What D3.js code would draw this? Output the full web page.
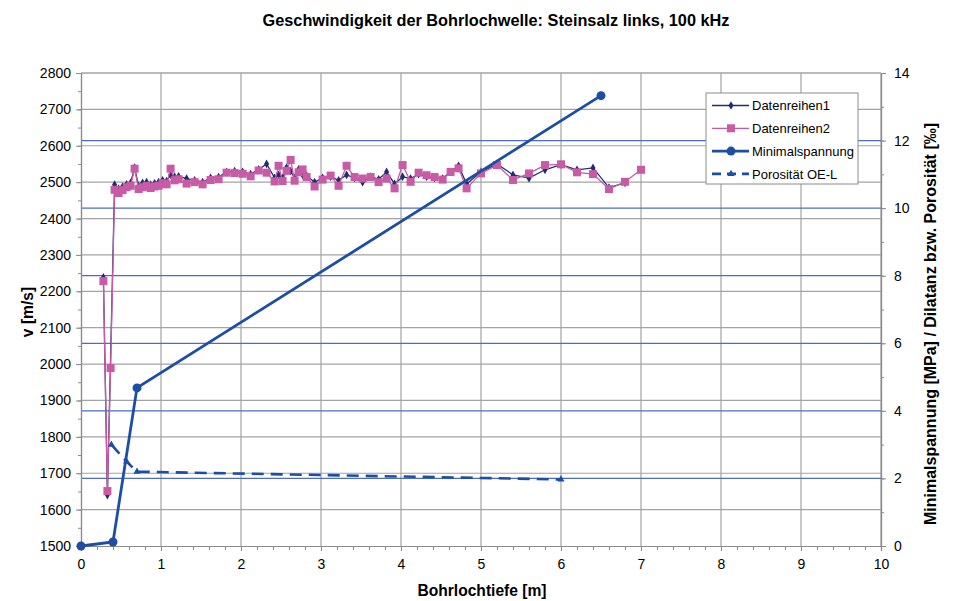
<!DOCTYPE html>
<html>
<head>
<meta charset="utf-8">
<script src="https://cdn.jsdelivr.net/npm/d3@7"></script>
<style>
  body { margin: 0; background: #fff; }
  svg { display: block; font-family: "Liberation Sans", Arial, sans-serif; }
</style>
</head>
<body>
<svg id="chart" width="954" height="601"></svg>
<script>
// Bohrlochtiefe [m] of the velocity readings
const depths = [0.28, 0.33, 0.37, 0.42, 0.47, 0.52, 0.57, 0.62, 0.67, 0.72, 0.77, 0.82, 0.87, 0.92, 0.97,
  1.02, 1.07, 1.12, 1.17, 1.22, 1.32, 1.42, 1.52, 1.62, 1.72, 1.82, 1.92, 2.02, 2.12, 2.22, 2.32, 2.42,
  2.47, 2.52, 2.57, 2.62, 2.67, 2.72, 2.77, 2.82, 2.92, 3.02, 3.12, 3.22, 3.32, 3.42, 3.52, 3.62, 3.72,
  3.82, 3.92, 4.02, 4.12, 4.22, 4.32, 4.42, 4.52, 4.62, 4.72, 4.82, 5.0, 5.2, 5.4, 5.6, 5.8, 6.0, 6.2,
  6.4, 6.6, 6.8, 7.0];

// Datenreihen1: v [m/s] (null = no reading)
const reihe1 = [2238, 1640, null, 2493, 2482, 2488, 2494, 2498, 2540, 2490, 2498, 2500, 2493, 2497, 2500,
  2505, 2503, 2520, 2515, 2516, 2510, 2505, 2500, 2512, 2514, 2528, 2530, 2528, 2522, 2535, 2550, 2512,
  2520, 2512, 2540, 2530, 2512, 2535, 2520, 2518, 2500, 2512, 2515, 2505, 2520, 2512, 2500, 2515, 2508,
  2528, 2495, 2515, 2510, 2522, 2515, 2512, 2510, 2528, 2545, 2495, 2528, 2550, 2520, 2511, 2534, 2548,
  2534, 2539, 2485, 2498, null];

// Datenreihen2: v [m/s]
const reihe2 = [2228, 1651, 1989, 2479, 2470, 2478, 2486, 2490, 2537, 2481, 2486, 2490, 2484, 2488, 2490,
  2497, 2494, 2537, 2505, 2508, 2496, 2500, 2494, 2506, 2508, 2526, 2525, 2523, 2516, 2532, 2526, 2502,
  2545, 2503, 2531, 2561, 2504, 2527, 2535, 2514, 2488, 2507, 2518, 2490, 2545, 2514, 2510, 2514, 2500,
  2510, 2483, 2547, 2501, 2526, 2519, 2514, 2507, 2528, 2538, 2483, 2524, 2547, 2506, 2524, 2547, 2549,
  2527, 2522, 2481, 2501, 2534];

// Minimalspannung [MPa]
const spannungTiefe = [0, 0.4, 0.7, 6.5];
const spannungWert = [0, 0.12, 4.68, 13.33];

// Porosität OE-L [‰]
const porTiefe = [0.38, 0.57, 0.7, 6.0];
const porWert = [3.0, 2.5, 2.2, 1.97];

// Axis ticks
const xTicks = d3.range(0, 11, 1);
const vTicks = d3.range(1500, 2801, 100);
const rTicks = d3.range(0, 15, 2);

const colNavy = "#1f2f6e";
const colPink = "#c95aa6";
const colBlue = "#1c4fa3";

const plotL = 81, plotR = 881, plotT = 73, plotB = 546;
const svg = d3.select("#chart");

const x = d3.scaleLinear().domain([0, 10]).range([plotL, plotR]);
const yV = d3.scaleLinear().domain([1500, 2800]).range([plotB, plotT]);
const yR = d3.scaleLinear().domain([0, 14]).range([plotB, plotT]);

// Gray grid (primary axis)
const grid = svg.append("g");
grid.selectAll("line.h").data(vTicks.slice(1)).join("line")
  .attr("x1", plotL).attr("x2", plotR)
  .attr("y1", d => yV(d)).attr("y2", d => yV(d))
  .attr("stroke", "#a3a3a3").attr("stroke-width", 1.2);
grid.selectAll("line.v").data(xTicks.slice(1)).join("line")
  .attr("x1", d => x(d)).attr("x2", d => x(d))
  .attr("y1", plotT).attr("y2", plotB)
  .attr("stroke", "#a3a3a3").attr("stroke-width", 1.2);

// Blue grid (secondary axis)
svg.append("g").selectAll("line").data(rTicks.slice(1, -1)).join("line")
  .attr("x1", plotL).attr("x2", plotR)
  .attr("y1", d => yR(d)).attr("y2", d => yR(d))
  .attr("stroke", "#4d6cc6").attr("stroke-width", 1.2);

// Axes
const tickFont = "14px";
const axB = svg.append("g").attr("transform", `translate(0,${plotB})`)
  .call(d3.axisBottom(x).tickValues(xTicks).tickSize(5).tickFormat(d3.format("d")));
svg.append("g").attr("transform", `translate(0,${plotB})`)
  .call(d3.axisBottom(x).tickValues(d3.range(0, 10.01, 0.2)).tickSize(4).tickFormat(""));
const axL = svg.append("g").attr("transform", `translate(${plotL},0)`)
  .call(d3.axisLeft(yV).tickValues(vTicks).tickSize(5).tickFormat(d3.format("d")));
svg.append("g").attr("transform", `translate(${plotL},0)`)
  .call(d3.axisLeft(yV).tickValues(d3.range(1500, 2801, 50)).tickSize(3).tickFormat(""));
const axR = svg.append("g").attr("transform", `translate(${plotR},0)`)
  .call(d3.axisRight(yR).tickValues(rTicks).tickSize(5).tickFormat(d3.format("d")));
svg.append("g").attr("transform", `translate(${plotR},0)`)
  .call(d3.axisRight(yR).tickValues(d3.range(0, 14.01, 1)).tickSize(3).tickFormat(""));

svg.selectAll(".domain").attr("stroke", "#8c8c8c").attr("stroke-width", 1.2);
svg.selectAll(".tick line").attr("stroke", "#8c8c8c");
svg.selectAll(".tick text").attr("font-size", tickFont).attr("fill", "#000")
  .attr("font-family", "Liberation Sans, Arial, sans-serif");
axB.selectAll(".tick text").attr("dy", "1.05em");
axL.selectAll(".tick text").attr("x", -10);
axR.selectAll(".tick text").attr("x", 13);

// Top border line
svg.append("line").attr("x1", plotL).attr("x2", plotR).attr("y1", plotT).attr("y2", plotT)
  .attr("stroke", "#a3a3a3").attr("stroke-width", 1.2);

// Series helpers
function points(xs, ys) {
  return xs.map((d, i) => ({ x: d, y: ys[i] })).filter(p => p.y !== null);
}
const p1 = points(depths, reihe1);
const p2 = points(depths, reihe2);
const pS = points(spannungTiefe, spannungWert);
const pP = points(porTiefe, porWert);

const lineV = d3.line().x(d => x(d.x)).y(d => yV(d.y));
const lineR = d3.line().x(d => x(d.x)).y(d => yR(d.y));

// Datenreihen1
svg.append("path").datum(p1).attr("d", lineV).attr("fill", "none")
  .attr("stroke", colNavy).attr("stroke-width", 1.3);
svg.append("g").selectAll("path").data(p1).join("path")
  .attr("d", d3.symbol(d3.symbolDiamond, 22))
  .attr("transform", d => `translate(${x(d.x)},${yV(d.y)})`)
  .attr("fill", colNavy);

// Datenreihen2
svg.append("path").datum(p2).attr("d", lineV).attr("fill", "none")
  .attr("stroke", colPink).attr("stroke-width", 1.3);
svg.append("g").selectAll("rect").data(p2).join("rect")
  .attr("x", d => x(d.x) - 4).attr("y", d => yV(d.y) - 4)
  .attr("width", 8).attr("height", 8).attr("fill", colPink);

// Minimalspannung
svg.append("path").datum(pS).attr("d", lineR).attr("fill", "none")
  .attr("stroke", colBlue).attr("stroke-width", 2.8);
svg.append("g").selectAll("circle").data(pS).join("circle")
  .attr("cx", d => x(d.x)).attr("cy", d => yR(d.y)).attr("r", 4.5)
  .attr("fill", colBlue);

// Porosität OE-L
svg.append("path").datum(pP).attr("d", lineR).attr("fill", "none")
  .attr("stroke", colBlue).attr("stroke-width", 2.6).attr("stroke-dasharray", "12,7");
svg.append("g").selectAll("path").data(pP).join("path")
  .attr("d", d3.symbol(d3.symbolTriangle, 22))
  .attr("transform", d => `translate(${x(d.x)},${yR(d.y)})`)
  .attr("fill", colBlue);

// Titles
svg.append("text").attr("x", 496).attr("y", 26).attr("text-anchor", "middle")
  .attr("font-size", "16.3px").attr("font-weight", "bold")
  .text("Geschwindigkeit der Bohrlochwelle: Steinsalz links, 100 kHz");
svg.append("text").attr("x", 482).attr("y", 596).attr("text-anchor", "middle")
  .attr("font-size", "15.6px").attr("font-weight", "bold").text("Bohrlochtiefe [m]");
svg.append("text").attr("transform", "translate(33,312) rotate(-90)").attr("text-anchor", "middle")
  .attr("font-size", "15.6px").attr("font-weight", "bold").text("v [m/s]");
svg.append("text").attr("transform", "translate(936,324) rotate(-90)").attr("text-anchor", "middle")
  .attr("font-size", "16px").attr("font-weight", "bold")
  .text("Minimalspannung [MPa] / Dilatanz bzw. Porosität [‰]");

// Legend
const lg = svg.append("g").attr("transform", "translate(706,93)");
lg.append("rect").attr("width", 152).attr("height", 91).attr("fill", "#fff")
  .attr("stroke", "#8c8c8c").attr("stroke-width", 1);
const legendItems = [
  { name: "Datenreihen1", color: colNavy, w: 1.3, marker: "diamond" },
  { name: "Datenreihen2", color: colPink, w: 1.3, marker: "square" },
  { name: "Minimalspannung", color: colBlue, w: 2.8, marker: "circle" },
  { name: "Porosität OE-L", color: colBlue, w: 2.6, marker: "triangle", dash: "9,6" }
];
legendItems.forEach((it, i) => {
  const g = lg.append("g").attr("transform", `translate(0,${12.5 + i * 22.8})`);
  g.append("line").attr("x1", 6).attr("x2", 43).attr("y1", 0).attr("y2", 0)
    .attr("stroke", it.color).attr("stroke-width", it.w)
    .attr("stroke-dasharray", it.dash || null);
  if (it.marker === "square") {
    g.append("rect").attr("x", 21).attr("y", -4).attr("width", 8).attr("height", 8).attr("fill", it.color);
  } else if (it.marker === "circle") {
    g.append("circle").attr("cx", 25).attr("cy", 0).attr("r", 4.5).attr("fill", it.color);
  } else {
    const sym = it.marker === "diamond" ? d3.symbolDiamond : d3.symbolTriangle;
    g.append("path").attr("d", d3.symbol(sym, 22)).attr("transform", "translate(25,0)").attr("fill", it.color);
  }
  g.append("text").attr("x", 46).attr("y", 4.8).attr("font-size", "13px").text(it.name);
});
</script>
</body>
</html>
